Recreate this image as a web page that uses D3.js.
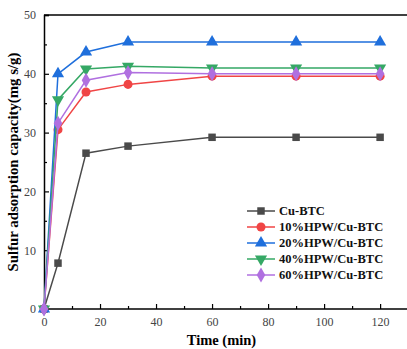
<!DOCTYPE html>
<html>
<head>
<meta charset="utf-8">
<script src="https://cdn.jsdelivr.net/npm/d3@7"></script>
<style>
  body { margin: 0; background: #fff; }
  svg { display: block; }
</style>
</head>
<body>
<div id="chart"></div>
<script>
// data
const times = [0, 5, 15, 30, 60, 90, 120];
const cuBTC = [0, 7.8, 26.5, 27.7, 29.2, 29.2, 29.2];
const hpw10 = [0, 30.5, 36.9, 38.2, 39.6, 39.6, 39.6];
const hpw20 = [0, 40.0, 43.7, 45.4, 45.4, 45.4, 45.4];
const hpw40 = [0, 35.6, 40.8, 41.3, 41.0, 41.0, 41.0];
const hpw60 = [0, 31.6, 38.9, 40.2, 40.0, 40.0, 40.0];
const seriesNames = ['Cu-BTC', '10%HPW/Cu-BTC', '20%HPW/Cu-BTC', '40%HPW/Cu-BTC', '60%HPW/Cu-BTC'];
const xTicks = [0, 20, 40, 60, 80, 100, 120];
const yTicks = [0, 10, 20, 30, 40, 50];

const width = 407, height = 349;
const margin = { top: 15, right: 0, bottom: 40, left: 44 };

const series = [
  { name: seriesNames[0], values: cuBTC, color: '#4a4a4a', symbol: d3.symbolSquare, rot: 0, size: 56 },
  { name: seriesNames[1], values: hpw10, color: '#f04545', symbol: d3.symbolCircle, rot: 0, size: 64 },
  { name: seriesNames[2], values: hpw20, color: '#1f6fdc', symbol: d3.symbolTriangle, rot: 0, size: 64 },
  { name: seriesNames[3], values: hpw40, color: '#35a865', symbol: d3.symbolTriangle, rot: 180, size: 64 },
  { name: seriesNames[4], values: hpw60, color: '#b070e0', symbol: d3.symbolDiamond, rot: 0, size: 64 }
];

const svg = d3.select('#chart').append('svg')
  .attr('width', width)
  .attr('height', height);

const x = d3.scaleLinear().domain([0, 129.6]).range([margin.left, width - margin.right]);
const y = d3.scaleLinear().domain([0, 50]).range([height - margin.bottom, margin.top]);

const font = '"Liberation Serif", "Times New Roman", serif';

// frame top line
svg.append('line')
  .attr('x1', x(0)).attr('x2', width)
  .attr('y1', y(50)).attr('y2', y(50))
  .attr('stroke', '#000').attr('stroke-width', 1.5);

// x axis
const xAxis = svg.append('g')
  .attr('transform', `translate(0,${y(0)})`)
  .call(d3.axisBottom(x).tickValues(d3.range(0, 130, 10)).tickSize(-5).tickPadding(8)
    .tickFormat(d => xTicks.includes(d) ? d : ''));
xAxis.select('.domain').attr('stroke-width', 1.5).attr('d', `M${x(0)},0H${width}`);
xAxis.selectAll('.tick line').attr('y2', d => xTicks.includes(d) ? -5 : -3).attr('stroke-width', 1.2);
xAxis.selectAll('text').attr('font-family', font).attr('font-size', 12).attr('fill', '#444');

// y axis
const yAxis = svg.append('g')
  .attr('transform', `translate(${x(0)},0)`)
  .call(d3.axisLeft(y).tickValues(d3.range(0, 55, 5)).tickSize(-5).tickPadding(8)
    .tickFormat(d => yTicks.includes(d) ? d : ''));
yAxis.select('.domain').attr('stroke-width', 1.5);
yAxis.selectAll('.tick line').attr('x2', d => yTicks.includes(d) ? 5 : 3).attr('stroke-width', 1.2);
yAxis.selectAll('text').attr('font-family', font).attr('font-size', 12).attr('fill', '#444');

// titles
svg.append('text')
  .attr('x', (x(0) + width) / 2 - 4)
  .attr('y', height - 4)
  .attr('text-anchor', 'middle')
  .attr('font-family', font).attr('font-weight', 'bold').attr('font-size', 14.5)
  .text('Time (min)');

svg.append('text')
  .attr('transform', `translate(18,${(y(0) + y(50)) / 2}) rotate(-90)`)
  .attr('text-anchor', 'middle')
  .attr('font-family', font).attr('font-weight', 'bold').attr('font-size', 14.8)
  .text('Sulfur adsorption capacity(mg s/g)');

// lines and markers
const line = d3.line().x((d, i) => x(times[i])).y(d => y(d));

series.forEach(s => {
  svg.append('path')
    .datum(s.values)
    .attr('d', line)
    .attr('fill', 'none')
    .attr('stroke', s.color)
    .attr('stroke-width', 1.5);

  svg.append('g').selectAll('path')
    .data(s.values)
    .join('path')
    .attr('d', d3.symbol().type(s.symbol).size(s.size))
    .attr('transform', (d, i) => `translate(${x(times[i])},${y(d)}) rotate(${s.rot})`)
    .attr('fill', s.color);
});

// legend
const legend = svg.append('g').attr('transform', 'translate(247,211)');
series.forEach((s, i) => {
  const g = legend.append('g').attr('transform', `translate(0,${i * 16})`);
  g.append('line').attr('x1', 0).attr('x2', 28).attr('y1', 0).attr('y2', 0)
    .attr('stroke', s.color).attr('stroke-width', 1.5);
  g.append('path')
    .attr('d', d3.symbol().type(s.symbol).size(s.size))
    .attr('transform', `translate(14,0) rotate(${s.rot})`)
    .attr('fill', s.color);
  g.append('text')
    .attr('x', 32).attr('y', 4)
    .attr('font-family', font).attr('font-weight', 'bold').attr('font-size', 12.5)
    .attr('fill', '#111')
    .text(s.name);
});
</script>
</body>
</html>
